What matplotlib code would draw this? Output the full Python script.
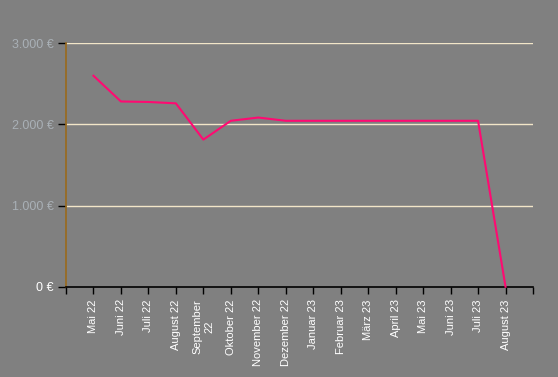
import matplotlib
matplotlib.use('Agg')
from matplotlib import pyplot as plt

months = ['Mai 22', 'Juni 22', 'Juli 22', 'August 22', 'September\n22', 'Oktober 22',
          'November 22', 'Dezember 22', 'Januar 23', 'Februar 23', 'März 23', 'April 23',
          'Mai 23', 'Juni 23', 'Juli 23', 'August 23']
values = [2600, 2283, 2277, 2260, 1813, 2045, 2085, 2045, 2045, 2045, 2045, 2045,
          2045, 2045, 2045, 0]
y_ticks = [0, 1000, 2000, 3000]
y_labels = ['0 €', '1.000 €', '2.000 €', '3.000 €']

plt.rcParams['font.family'] = ['Liberation Sans', 'DejaVu Sans']

fig = plt.figure(figsize=(5.58, 3.77), dpi=100)
fig.patch.set_facecolor('#808080')
ax = fig.add_axes([66 / 558, 1 - 286.7 / 377, (533 - 66) / 558, (286.7 - 43.3) / 377])
ax.set_facecolor('#808080')

x = list(range(1, len(months) + 1))
for y in y_ticks[1:]:
    ax.axhline(y, color='#f2e6c8', lw=1.0, zorder=1)
ax.plot(x, values, color='#ff0a72', lw=1.5, zorder=3, clip_on=False)

ax.set_xlim(0, len(months) + 1)
ax.set_ylim(0, 3000)

ax.set_xticks(range(0, len(months) + 2))
ax.set_xticklabels([''] + months + [''], rotation=90, fontsize=8, color='white',
                   ha='center', va='top', multialignment='center', linespacing=1.3)
ax.set_yticks(y_ticks)
ax.set_yticklabels(y_labels, fontsize=9)
for i, lab in enumerate(ax.get_yticklabels()):
    lab.set_color('white' if i == 0 else '#a9b0b6')

ax.tick_params(axis='x', length=5, width=1, color='black', pad=4)
ax.tick_params(axis='y', length=6, width=1, color='black', pad=3)

for s in ['top', 'right']:
    ax.spines[s].set_visible(False)
ax.spines['left'].set_color('#9a6a1c')
ax.spines['left'].set_linewidth(1.2)
ax.spines['bottom'].set_color('black')
ax.spines['bottom'].set_linewidth(1.2)

plt.savefig('out.png', dpi=100, facecolor=fig.get_facecolor())
plt.close(fig)
